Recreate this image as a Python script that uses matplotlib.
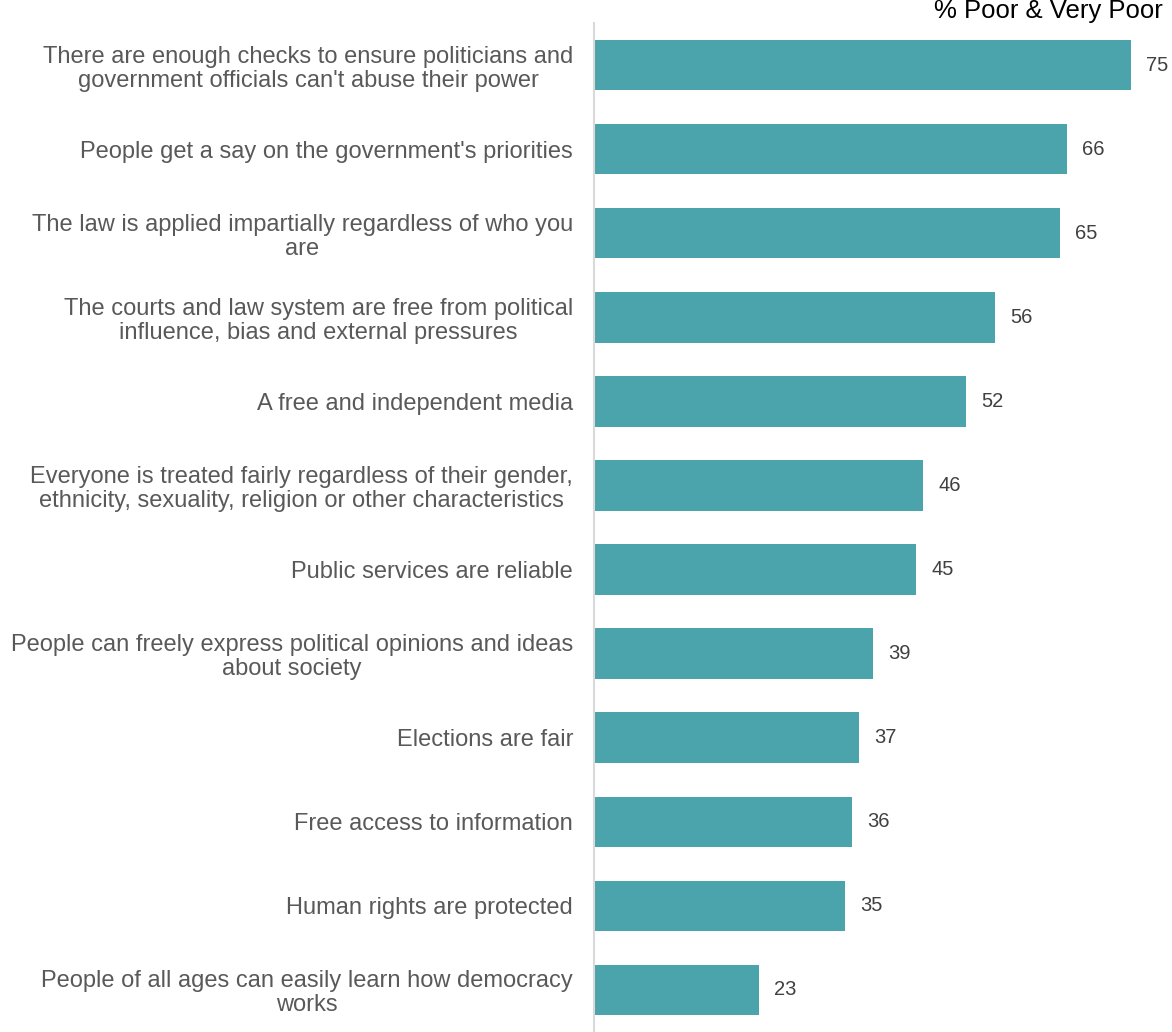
import matplotlib.pyplot as plt

plt.rcParams['font.family'] = ['Liberation Sans', 'DejaVu Sans']

categories = [
    "There are enough checks to ensure politicians and\ngovernment officials can't abuse their power",
    "People get a say on the government's priorities",
    "The law is applied impartially regardless of who you\nare",
    "The courts and law system are free from political\ninfluence, bias and external pressures",
    "A free and independent media",
    "Everyone is treated fairly regardless of their gender,\nethnicity, sexuality, religion or other characteristics",
    "Public services are reliable",
    "People can freely express political opinions and ideas\nabout society",
    "Elections are fair",
    "Free access to information",
    "Human rights are protected",
    "People of all ages can easily learn how democracy\nworks",
]
values = [75, 66, 65, 56, 52, 46, 45, 39, 37, 36, 35, 23]
series_label = "% Poor & Very Poor"

bar_color = "#4BA3AB"
text_color = "#595959"

fig = plt.figure(figsize=(11.72, 10.32), dpi=100)
ax = fig.add_axes([594 / 1172, 0.0, 1 - 594 / 1172, 1 - 23 / 1032])

y = range(len(values))
ax.barh(y, values, height=0.6, color=bar_color)
ax.set_ylim(len(values) - 0.5, -0.5)
ax.set_xlim(0, 80.7)

for i, v in enumerate(values):
    ax.text(v + 2.1, i, str(v), va="center", ha="left", fontsize=14.5, color="#404040")

ax.set_yticks(list(y))
ax.set_yticklabels(categories, fontsize=17, color=text_color,
                   multialignment="center", linespacing=1.12)
ax.tick_params(axis="y", length=0, pad=15)
ax.set_xticks([])

for s in ["top", "right", "bottom"]:
    ax.spines[s].set_visible(False)
ax.spines["left"].set_color("#D9D9D9")
ax.spines["left"].set_linewidth(1.5)

fig.text(1163 / 1172, 1 - 11 / 1032, series_label, ha="right", va="center",
         fontsize=18.5, color="black")

fig.savefig("out.png", dpi=100)
